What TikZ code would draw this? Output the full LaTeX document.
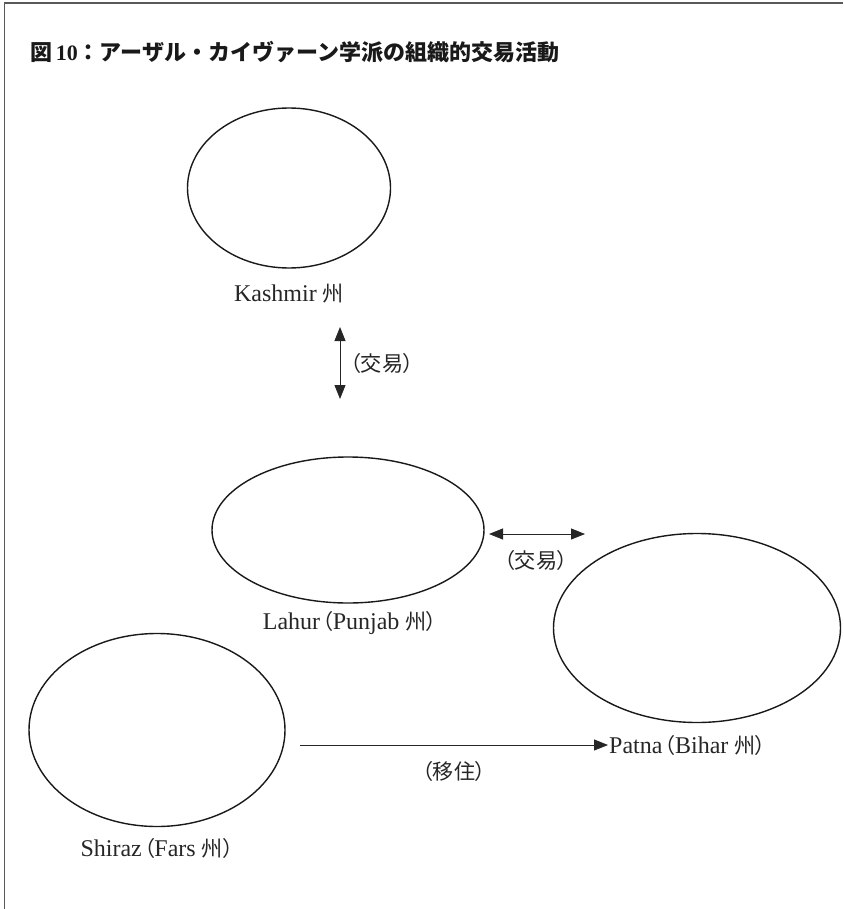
\documentclass[tikz,border=0pt]{standalone}
\usepackage{fontspec}
\setmainfont{Liberation Serif}
\newfontfamily\jp[Scale=0.88]{Noto Sans CJK JP}
\newfontfamily\jpt{Noto Sans CJK JP}
\newfontfamily\jpp[RawFeature=+palt,Scale=0.88]{Noto Sans CJK JP}
\usetikzlibrary{shapes.geometric,arrows.meta}
\begin{document}
\begin{tikzpicture}[x=1pt,y=-1pt,
  region/.style={ellipse,draw=black!90,line width=1.4pt,inner sep=0pt},
  lbl/.style={font=\fontsize{24}{28}\selectfont,inner sep=0pt,text=black!85},
  link/.style={line width=0.9pt,draw=black!85},
  tiptwo/.style={{Triangle[length=14pt,width=11pt]}-{Triangle[length=14pt,width=11pt]}},
  tipone/.style={-{Triangle[length=14pt,width=11pt]}},
  frame/.style={draw=black!65,line width=1.5pt}]
\useasboundingbox (0,0) rectangle (843,909);
\coordinate (fr1) at (843,3);
\coordinate (fr2) at (4.5,3);
\coordinate (fr3) at (4.5,909);
\draw[frame] (fr1) -- (fr2) -- (fr3);

\node[anchor=west,inner sep=0pt,font=\fontsize{22}{26}\selectfont\bfseries,text=black!90] (title) at (30,52)
  {{\jpt\bfseries 図}\,10{\jpt\bfseries ：アーザル・カイヴァーン学派の組織的交易活動}};

\node[region,minimum width=203pt,minimum height=160pt] (kash) at (289,188) {};
\node[region,minimum width=272pt,minimum height=146pt] (lah) at (348,530) {};
\node[region,minimum width=287pt,minimum height=189pt] (pat) at (697,628) {};
\node[region,minimum width=256pt,minimum height=193pt] (shir) at (157,730) {};

\node[lbl] (kashL) at (289,294) {Kashmir {\jp 州}};
\node[lbl] (lahL) at (350,623) {Lahur\kern2pt{\jpp （}Punjab {\jpp 州）}};
\node[lbl,anchor=west] (patL) at (609,745) {Patna\kern2pt{\jpp （}Bihar {\jpp 州）}};
\node[lbl] (shirL) at (157,848) {Shiraz\kern2pt{\jpp （}Fars {\jpp 州）}};

\node[lbl] (t1) at (382,363) {\jpp （交易）};
\node[lbl] (t2) at (536,560) {\jpp （交易）};
\node[lbl] (t3) at (454,771) {\jpp （移住）};

\coordinate (v1) at (340,327);
\coordinate (v2) at (340,399);
\coordinate (h1) at (489,534);
\coordinate (h2) at (585,534);
\coordinate (m1) at (300,745);
\draw[link,tiptwo] (v1) -- (v2);
\draw[link,tiptwo] (h1) -- (h2);
\draw[link,tipone,shorten >=1pt] (m1) -- (patL.west);
\end{tikzpicture}
\end{document}
